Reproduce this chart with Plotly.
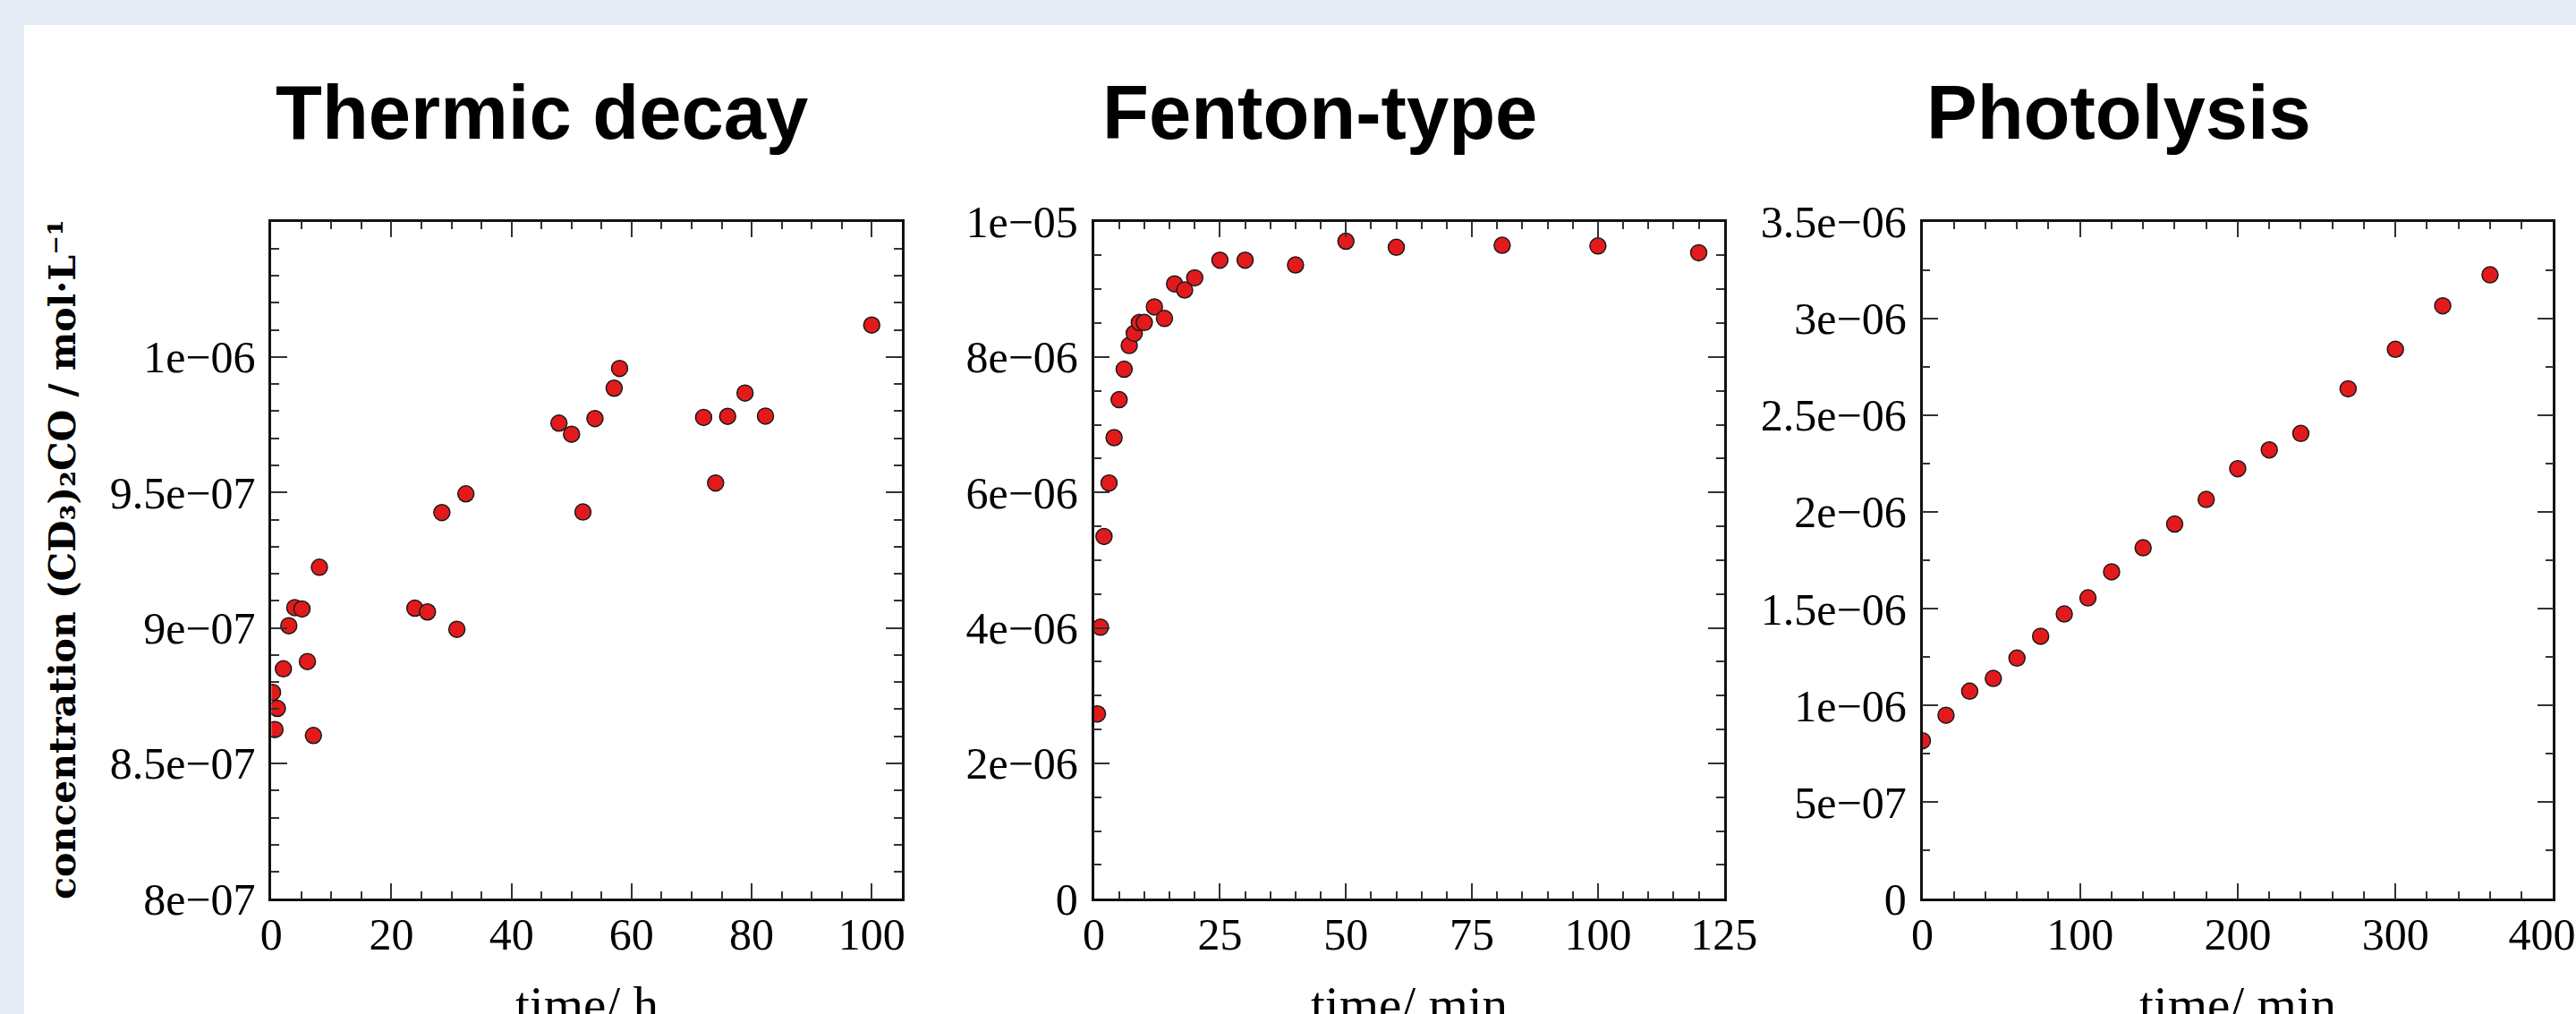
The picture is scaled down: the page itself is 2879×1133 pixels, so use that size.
import plotly.graph_objects as go

W, H = 2879, 1133

# ---------------- data ----------------
thermic_t = [0.2, 1.0, 0.6, 2.0, 2.9, 3.9, 5.1, 6.0, 7.0, 8.0, 23.9, 26.0, 28.4, 30.9,
             32.4, 47.9, 50.0, 51.9, 53.9, 57.1, 58.0, 72.0, 74.0, 76.0, 78.9, 82.3, 100.0]
thermic_c = [8.762e-7, 8.703e-7, 8.625e-7, 8.849e-7, 9.008e-7, 9.075e-7, 9.070e-7, 8.876e-7,
             8.603e-7, 9.224e-7, 9.073e-7, 9.059e-7, 9.426e-7, 8.995e-7, 9.495e-7, 9.756e-7,
             9.715e-7, 9.428e-7, 9.773e-7, 9.885e-7, 9.958e-7, 9.777e-7, 9.535e-7, 9.781e-7,
             9.867e-7, 9.782e-7, 1.0118e-6]

fenton_t = [0.7, 1.3, 2, 3, 4, 5, 6, 7, 8, 9, 10, 12, 14, 16, 18, 20, 25, 30, 40, 50, 60, 81, 100, 120]
fenton_c = [2.73e-6, 4.01e-6, 5.35e-6, 6.14e-6, 6.81e-6, 7.37e-6, 7.82e-6, 8.17e-6, 8.35e-6,
            8.51e-6, 8.51e-6, 8.74e-6, 8.57e-6, 9.08e-6, 8.99e-6, 9.17e-6, 9.43e-6, 9.43e-6,
            9.36e-6, 9.71e-6, 9.62e-6, 9.65e-6, 9.64e-6, 9.54e-6]

photo_t = [0, 15, 30, 45, 60, 75, 90, 105, 120, 140, 160, 180, 200, 220, 240, 270, 300, 330, 360]
photo_c = [8.17e-7, 9.49e-7, 1.073e-6, 1.139e-6, 1.244e-6, 1.357e-6, 1.472e-6, 1.555e-6,
           1.690e-6, 1.814e-6, 1.937e-6, 2.064e-6, 2.223e-6, 2.320e-6, 2.405e-6, 2.636e-6,
           2.840e-6, 3.065e-6, 3.225e-6]

panel_titles = ["Thermic decay", "Fenton-type", "Photolysis"]
x_titles = ["time/ h", "time/ min", "time/ min"]
y_title = "concentration (CD₃)₂CO / mol·L⁻¹"

x1_tickvals = [0, 20, 40, 60, 80, 100]
x2_tickvals = [0, 25, 50, 75, 100, 125]
x3_tickvals = [0, 100, 200, 300, 400]
x3_ticktext = ["0", "100", "200", "300", "400\u00a0\u00a0"]  # last label sits inside the edge

y1_tickvals = [8e-7, 8.5e-7, 9e-7, 9.5e-7, 1e-6]
y1_ticktext = ["8e−07", "8.5e−07", "9e−07", "9.5e−07", "1e−06"]
y2_tickvals = [0, 2e-6, 4e-6, 6e-6, 8e-6, 1e-5]
y2_ticktext = ["0", "2e−06", "4e−06", "6e−06", "8e−06", "1e−05"]
y3_tickvals = [0, 5e-7, 1e-6, 1.5e-6, 2e-6, 2.5e-6, 3e-6, 3.5e-6]
y3_ticktext = ["0", "5e−07", "1e−06", "1.5e−06", "2e−06", "2.5e−06", "3e−06", "3.5e−06"]

# ---------------- layout geometry (pixels) ----------------
px_left = [303.3, 1222.6, 2148.5]
px_right = [1007.8, 1926.7, 2853.4]
px_top, px_bottom = 247.6, 1004.3
title_cx = [605.0, 1474.5, 2367.5]


def fx(p):
    return p / W


def fy(p):
    return 1 - p / H


RED = "#E31A1C"
fig = go.Figure()

series = [(thermic_t, thermic_c), (fenton_t, fenton_c), (photo_t, photo_c)]
for i, (xs, ys) in enumerate(series):
    fig.add_trace(go.Scatter(
        x=xs, y=ys, mode="markers",
        xaxis="x" if i == 0 else f"x{i+1}",
        yaxis="y" if i == 0 else f"y{i+1}",
        marker=dict(size=18, color=RED, line=dict(color="#1a1a1a", width=1.5)),
        showlegend=False, cliponaxis=True,
    ))

tick_font = dict(family="Liberation Serif", size=50, color="black")
common = dict(
    showline=True, linecolor="#111111", linewidth=2.5, mirror="allticks",
    ticks="inside", ticklen=18, tickwidth=1.6, tickcolor="#333333",
    showgrid=False, zeroline=False, tickfont=tick_font, automargin=False,
    ticklabeloverflow="allow",
)

x_ranges = [[0, 105], [0, 125], [0, 400]]
x_vals = [x1_tickvals, x2_tickvals, x3_tickvals]
x_text = [[str(v) for v in x1_tickvals], [str(v) for v in x2_tickvals], x3_ticktext]
x_minor = [5, 5, 20]
y_ranges = [[8e-7, 1.05e-6], [0, 1e-5], [0, 3.5e-6]]
y_vals = [y1_tickvals, y2_tickvals, y3_tickvals]
y_text = [y1_ticktext, y2_ticktext, y3_ticktext]
y_minor = [1e-8, 5e-7, 2.5e-7]

layout_axes = {}
for i in range(3):
    sx = "" if i == 0 else str(i + 1)
    layout_axes[f"xaxis{sx}"] = dict(
        common,
        domain=[fx(px_left[i]), fx(px_right[i])],
        range=x_ranges[i], tickmode="array", tickvals=x_vals[i], ticktext=x_text[i],
        anchor=f"y{sx}", ticklabelstandoff=-6,
        minor=dict(ticks="inside", ticklen=9, tickwidth=1.6, tickcolor="#333333",
                   tickmode="linear", tick0=0, dtick=x_minor[i], showgrid=False),
    )
    layout_axes[f"yaxis{sx}"] = dict(
        common,
        domain=[fy(px_bottom), fy(px_top)],
        range=y_ranges[i], tickmode="array", tickvals=y_vals[i], ticktext=y_text[i],
        anchor=f"x{sx}", ticklabelstandoff=5,
        minor=dict(ticks="inside", ticklen=9, tickwidth=1.6, tickcolor="#333333",
                   tickmode="linear", tick0=0, dtick=y_minor[i], showgrid=False),
    )

annotations = []
for i in range(3):
    annotations.append(dict(
        text=panel_titles[i], x=fx(title_cx[i]), y=fy(125),
        xref="paper", yref="paper", xanchor="center", yanchor="middle", showarrow=False,
        font=dict(family="Liberation Sans", size=85, color="black", weight="bold"),
    ))
    annotations.append(dict(
        text=x_titles[i], x=fx((px_left[i] + px_right[i]) / 2), y=fy(1122),
        xref="paper", yref="paper", xanchor="center", yanchor="middle", showarrow=False,
        font=dict(family="Liberation Serif", size=57, color="black"),
    ))
annotations.append(dict(
    text=y_title, x=fx(70), y=fy(625), textangle=-90,
    xref="paper", yref="paper", xanchor="center", yanchor="middle", showarrow=False,
    font=dict(family="DejaVu Serif", size=41, color="black", weight="bold"),
))

fig.update_layout(
    width=W, height=H, template="none",
    margin=dict(l=0, r=0, t=0, b=0, autoexpand=False),
    paper_bgcolor="#E5ECF6", plot_bgcolor="white",
    shapes=[dict(type="rect", xref="paper", yref="paper",
                 x0=fx(27), x1=1.01, y0=-0.01, y1=fy(28),
                 fillcolor="white", line=dict(width=0), layer="below")],
    annotations=annotations,
    **layout_axes,
)

# let the figure fill the window exactly (no default 8 px page margin, no scrollbars)
page_css = ("document.body.style.margin='0';"
            "document.body.style.overflow='hidden';"
            "document.documentElement.style.overflow='hidden';")

fig.write_html("out.html", post_script=page_css, config={"displayModeBar": False})
